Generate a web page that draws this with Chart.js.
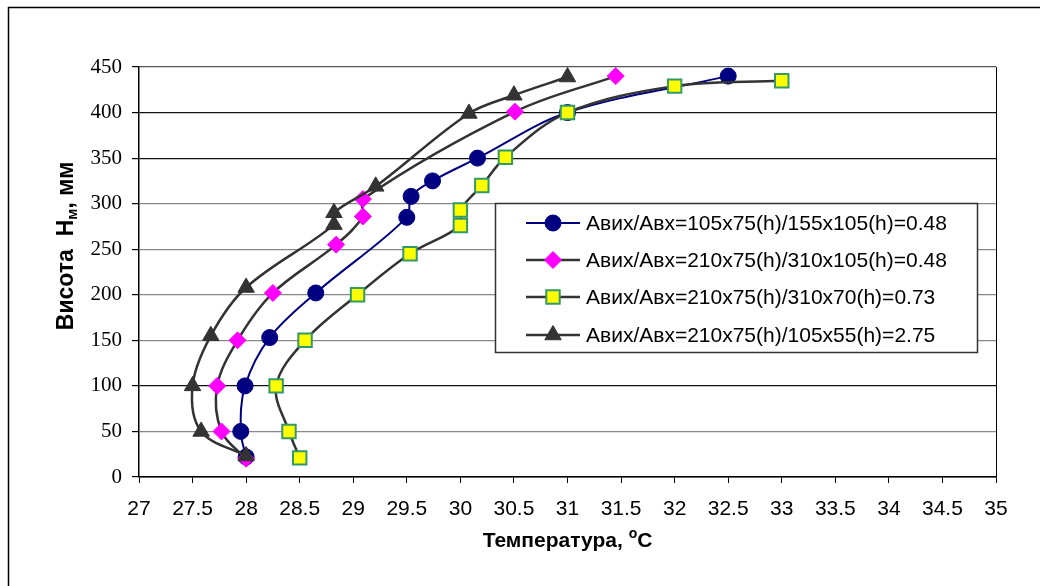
<!DOCTYPE html>
<html>
<head>
<meta charset="utf-8">
<script src="https://cdn.jsdelivr.net/npm/chart.js@4/dist/chart.umd.min.js"></script>
<style>
  body { margin: 0; background: #fff; }
  #wrap { width: 1040px; height: 586px; }
</style>
</head>
<body>
<div id="wrap"><canvas id="myChart" width="1040" height="586"></canvas></div>
<script>
// series data (temperature, height)
var seriesLabels = [
  "Авих/Авх=105x75(h)/155x105(h)=0.48",
  "Авих/Авх=210x75(h)/310x105(h)=0.48",
  "Авих/Авх=210x75(h)/310x70(h)=0.73",
  "Авих/Авх=210x75(h)/105x55(h)=2.75"
];
var tempA = [28.0, 27.95, 27.99, 28.22, 28.65, 29.5, 29.54, 29.74, 30.16, 31.0, 32.5];
var heightA = [22, 50, 100, 153, 202, 285, 308, 325, 350, 400, 440];
var tempB = [28.0, 27.77, 27.73, 27.92, 28.25, 28.84, 29.09, 29.09, 30.51, 31.45];
var heightB = [20, 50, 100, 150, 202, 255, 286, 305, 401, 440];
var tempC = [28.5, 28.4, 28.28, 28.55, 29.04, 29.53, 30.0, 30.0, 30.2, 30.42, 31.0, 32.0, 33.0];
var heightC = [21, 50, 100, 150, 200, 245, 276, 293, 320, 351, 400, 429, 435];
var tempD = [28.0, 27.58, 27.5, 27.67, 28.0, 28.82, 28.82, 29.21, 30.08, 30.5, 31.0];
var heightD = [23, 50, 100, 155, 208, 277, 290, 319, 399, 419, 439];

var xTitle = "Температура, ";
var yTitle = "Висота  Н";

function toPoints(xs, ys) {
  var pts = [];
  for (var i = 0; i < xs.length; i++) pts.push({x: xs[i], y: ys[i]});
  return pts;
}

var styles = [
  {borderColor: "#000080", borderWidth: 2, pointStyle: "circle", pointRadius: 8, pointBackgroundColor: "#000080", pointBorderColor: "#000080", pointBorderWidth: 1},
  {borderColor: "#333333", borderWidth: 2.5, pointStyle: "rectRot", pointRadius: 8.5, pointBackgroundColor: "#FF00FF", pointBorderColor: "#FF00FF", pointBorderWidth: 1},
  {borderColor: "#333333", borderWidth: 2.5, pointStyle: "rect", pointRadius: 9.5, pointBackgroundColor: "#FFFF00", pointBorderColor: "#339966", pointBorderWidth: 2},
  {borderColor: "#333333", borderWidth: 2.5, pointStyle: "triangle", pointRadius: 9.5, pointBackgroundColor: "#333333", pointBorderColor: "#333333", pointBorderWidth: 1}
];
var allData = [toPoints(tempA, heightA), toPoints(tempB, heightB), toPoints(tempC, heightC), toPoints(tempD, heightD)];

var datasets = [];
for (var i = 0; i < 4; i++) {
  var ds = Object.assign({
    label: seriesLabels[i],
    data: allData[i],
    showLine: true,
    tension: 0.35,
    fill: false,
    order: 4 - i
  }, styles[i]);
  datasets.push(ds);
}

// frame, axis titles and legend
var extras = {
  id: "extras",
  beforeDraw: function(chart) {
    var ctx = chart.ctx;
    ctx.save();
    ctx.fillStyle = "#fff";
    ctx.fillRect(0, 0, chart.width, chart.height);
    ctx.strokeStyle = "#000";
    ctx.lineWidth = 1.5;
    ctx.beginPath();
    ctx.moveTo(8.5, chart.height);
    ctx.lineTo(8.5, 7.5);
    ctx.lineTo(chart.width, 7.5);
    ctx.stroke();
    ctx.restore();
  },
  afterDraw: function(chart) {
    var ctx = chart.ctx;
    var area = chart.chartArea;
    var big = "bold 21px 'Liberation Sans', Arial, sans-serif";
    var small = "bold 14px 'Liberation Sans', Arial, sans-serif";
    ctx.save();
    ctx.fillStyle = "#000";
    // x title
    ctx.font = big;
    ctx.textBaseline = "alphabetic";
    var w1 = ctx.measureText(xTitle).width;
    ctx.font = small;
    var wo = ctx.measureText("o").width;
    ctx.font = big;
    var wc = ctx.measureText("C").width;
    var cx = (area.left + area.right) / 2;
    var sx = cx - (w1 + wo + wc) / 2;
    var by = 547;
    ctx.textAlign = "left";
    ctx.fillText(xTitle, sx, by);
    ctx.font = small;
    ctx.fillText("o", sx + w1, by - 9);
    ctx.font = big;
    ctx.fillText("C", sx + w1 + wo, by);

    // y title, rotated
    var bigY = "bold 23px 'Liberation Sans', Arial, sans-serif";
    var smallY = "bold 15px 'Liberation Sans', Arial, sans-serif";
    ctx.save();
    ctx.translate(73, 246);
    ctx.rotate(-Math.PI / 2);
    var p1 = yTitle, p2 = "м", p3 = ", мм";
    ctx.font = bigY;
    var a1 = ctx.measureText(p1).width, a3 = ctx.measureText(p3).width;
    ctx.font = smallY;
    var a2 = ctx.measureText(p2).width;
    var st = -(a1 + a2 + a3) / 2;
    ctx.font = bigY;
    ctx.fillText(p1, st, 0);
    ctx.font = smallY;
    ctx.fillText(p2, st + a1, 4);
    ctx.font = bigY;
    ctx.fillText(p3, st + a1 + a2, 0);
    ctx.restore();

    // legend
    var lx = 495, ly = 203, lw = 482, lh = 149;
    ctx.fillStyle = "#fff";
    ctx.fillRect(lx, ly, lw, lh);
    ctx.strokeStyle = "#333";
    ctx.lineWidth = 1.5;
    ctx.strokeRect(lx + 0.5, ly + 0.5, lw, lh);
    var rows = [223, 260, 297, 335];
    ctx.font = "21px 'Liberation Sans', Arial, sans-serif";
    ctx.textBaseline = "middle";
    for (var k = 0; k < 4; k++) {
      var s = styles[k];
      ctx.strokeStyle = s.borderColor;
      ctx.lineWidth = s.borderWidth;
      ctx.beginPath();
      ctx.moveTo(526, rows[k]);
      ctx.lineTo(580, rows[k]);
      ctx.stroke();
      ctx.fillStyle = s.pointBackgroundColor;
      ctx.strokeStyle = s.pointBorderColor;
      ctx.lineWidth = s.pointBorderWidth;
      Chart.helpers.drawPoint(ctx, {pointStyle: s.pointStyle, radius: s.pointRadius, rotation: 0, borderWidth: s.pointBorderWidth}, 553, rows[k]);
      ctx.fillStyle = "#000";
      ctx.fillText(seriesLabels[k], 586, rows[k] + 1);
    }
    ctx.restore();
  }
};

var darkLines = [400, 350, 100, 0];

var ctx = document.getElementById("myChart");
var myChart = new Chart(ctx, {
  type: "scatter",
  data: {datasets: datasets},
  options: {
    responsive: false,
    animation: false,
    layout: {padding: {top: 67, right: 44, left: 0, bottom: 0}},
    plugins: {legend: {display: false}, tooltip: {enabled: false}},
    scales: {
      x: {
        type: "linear",
        min: 27, max: 35,
        afterFit: function(scale) { scale.height = 109; },
        ticks: {
          stepSize: 0.5,
          color: "#000",
          padding: 14,
          maxRotation: 0,
          autoSkip: false,
          font: {family: "'Liberation Sans', Arial, sans-serif", size: 21},
          callback: function(v) { return String(Math.round(v * 10) / 10); }
        },
        grid: {
          color: function(c) { return c.tick && c.tick.value === 35 ? "#000" : "rgba(0,0,0,0)"; },
          tickColor: "#000",
          tickLength: 6,
          lineWidth: 1
        },
        border: {color: "#000", width: 1.5}
      },
      y: {
        type: "linear",
        min: 0, max: 450,
        afterFit: function(scale) { scale.width = 139; },
        ticks: {
          stepSize: 50,
          color: "#000",
          padding: 10,
          font: {family: "'Liberation Serif', 'Times New Roman', serif", size: 21}
        },
        grid: {
          color: function(c) {
            if (!c.tick) return "#000";
            if (c.tick.value === 450) return "#555";
            return darkLines.indexOf(c.tick.value) >= 0 ? "#111" : "#888";
          },
          tickColor: "#000",
          tickLength: 7,
          lineWidth: 1.2
        },
        border: {color: "#000", width: 1.5}
      }
    }
  },
  plugins: [extras]
});
</script>
</body>
</html>
